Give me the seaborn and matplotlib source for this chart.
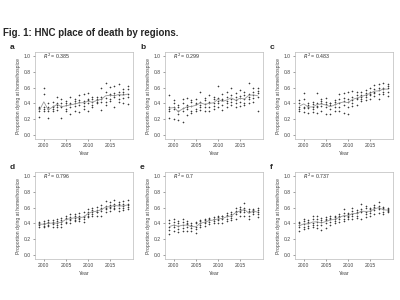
import numpy as np
import pandas as pd
import matplotlib
matplotlib.use("Agg")
import matplotlib.pyplot as plt
import seaborn as sns

sns.set_theme(style="ticks")
plt.rcParams['font.family'] = ['Liberation Sans', 'DejaVu Sans']

years = list(range(1999, 2020))
panel_labels = ['a', 'b', 'c', 'd', 'e', 'f']
r2_values = ['0.385', '0.299', '0.483', '0.796', '0.7', '0.737']

# proportion dying at home/hospice, one list of regions per year
panel_a = [
    [0.23, 0.31, 0.34, 0.36, 0.33], [0.60, 0.52, 0.35, 0.30, 0.33], [0.21, 0.30, 0.36, 0.40, 0.33],
    [0.42, 0.35, 0.30, 0.37, 0.33], [0.48, 0.40, 0.36, 0.32, 0.38], [0.22, 0.36, 0.40, 0.45, 0.37],
    [0.43, 0.38, 0.33, 0.30, 0.40], [0.48, 0.27, 0.41, 0.36, 0.39], [0.46, 0.40, 0.30, 0.37, 0.43],
    [0.50, 0.29, 0.42, 0.38, 0.44], [0.52, 0.37, 0.33, 0.43, 0.40], [0.53, 0.30, 0.46, 0.40, 0.44],
    [0.45, 0.38, 0.42, 0.48, 0.35], [0.44, 0.48, 0.40, 0.45, 0.42], [0.59, 0.32, 0.45, 0.48, 0.42],
    [0.66, 0.55, 0.42, 0.38, 0.47], [0.61, 0.50, 0.43, 0.46, 0.52], [0.62, 0.35, 0.53, 0.48, 0.50],
    [0.65, 0.45, 0.55, 0.50, 0.42], [0.58, 0.52, 0.47, 0.40, 0.55], [0.62, 0.58, 0.48, 0.39, 0.52],
]
panel_b = [
    [0.50, 0.22, 0.35, 0.33, 0.30], [0.41, 0.44, 0.36, 0.20, 0.33], [0.19, 0.30, 0.38, 0.27, 0.35],
    [0.16, 0.34, 0.40, 0.45, 0.30], [0.47, 0.38, 0.25, 0.33, 0.36], [0.42, 0.30, 0.37, 0.44, 0.28],
    [0.39, 0.45, 0.33, 0.30, 0.41], [0.55, 0.38, 0.32, 0.42, 0.36], [0.47, 0.30, 0.39, 0.44, 0.35],
    [0.51, 0.42, 0.36, 0.31, 0.40], [0.48, 0.37, 0.45, 0.33, 0.41], [0.62, 0.40, 0.35, 0.47, 0.43],
    [0.52, 0.44, 0.38, 0.32, 0.46], [0.48, 0.40, 0.55, 0.36, 0.43], [0.60, 0.45, 0.38, 0.50, 0.42],
    [0.53, 0.44, 0.35, 0.48, 0.40], [0.57, 0.49, 0.42, 0.37, 0.47], [0.55, 0.45, 0.40, 0.50, 0.38],
    [0.66, 0.52, 0.45, 0.40, 0.48], [0.60, 0.55, 0.47, 0.42, 0.50], [0.60, 0.31, 0.53, 0.48, 0.56],
]
panel_c = [
    [0.44, 0.35, 0.31, 0.40, 0.33], [0.53, 0.29, 0.36, 0.45, 0.34], [0.41, 0.34, 0.28, 0.38, 0.36],
    [0.39, 0.29, 0.42, 0.35, 0.33], [0.53, 0.35, 0.28, 0.40, 0.37], [0.46, 0.37, 0.30, 0.43, 0.40],
    [0.47, 0.39, 0.27, 0.42, 0.35], [0.41, 0.33, 0.27, 0.38, 0.40], [0.44, 0.36, 0.30, 0.42, 0.39],
    [0.52, 0.40, 0.30, 0.45, 0.36], [0.53, 0.43, 0.28, 0.38, 0.47], [0.55, 0.45, 0.36, 0.27, 0.42],
    [0.56, 0.48, 0.40, 0.44, 0.37], [0.54, 0.45, 0.50, 0.38, 0.47], [0.55, 0.48, 0.43, 0.51, 0.46],
    [0.57, 0.51, 0.44, 0.48, 0.53], [0.60, 0.52, 0.46, 0.55, 0.50], [0.63, 0.55, 0.49, 0.58, 0.53],
    [0.65, 0.57, 0.52, 0.60, 0.45], [0.66, 0.60, 0.55, 0.52, 0.58], [0.65, 0.62, 0.55, 0.49, 0.59],
]
panel_d = [
    [0.36, 0.38, 0.40, 0.42, 0.39], [0.35, 0.39, 0.41, 0.37, 0.43], [0.37, 0.40, 0.44, 0.38, 0.42],
    [0.36, 0.41, 0.44, 0.39, 0.42], [0.38, 0.43, 0.46, 0.40, 0.35], [0.39, 0.42, 0.47, 0.44, 0.36],
    [0.42, 0.45, 0.50, 0.47, 0.41], [0.44, 0.48, 0.52, 0.46, 0.40], [0.43, 0.47, 0.50, 0.44, 0.52],
    [0.45, 0.49, 0.53, 0.47, 0.43], [0.46, 0.50, 0.54, 0.48, 0.42], [0.50, 0.54, 0.58, 0.52, 0.48],
    [0.52, 0.55, 0.60, 0.57, 0.50], [0.54, 0.57, 0.61, 0.55, 0.50], [0.56, 0.60, 0.63, 0.58, 0.50],
    [0.58, 0.62, 0.68, 0.60, 0.55], [0.59, 0.63, 0.67, 0.61, 0.56], [0.60, 0.64, 0.70, 0.62, 0.58],
    [0.59, 0.63, 0.67, 0.65, 0.56], [0.60, 0.64, 0.68, 0.62, 0.57], [0.61, 0.65, 0.70, 0.63, 0.58],
]
panel_e = [
    [0.36, 0.41, 0.44, 0.32, 0.27], [0.38, 0.42, 0.35, 0.30, 0.45], [0.37, 0.40, 0.33, 0.29, 0.43],
    [0.38, 0.42, 0.34, 0.30, 0.45], [0.39, 0.43, 0.35, 0.31, 0.41], [0.38, 0.41, 0.34, 0.30, 0.37],
    [0.40, 0.42, 0.36, 0.28, 0.33], [0.41, 0.44, 0.38, 0.35, 0.43], [0.42, 0.45, 0.40, 0.37, 0.44],
    [0.44, 0.47, 0.42, 0.39, 0.45], [0.45, 0.48, 0.43, 0.40, 0.46], [0.46, 0.49, 0.44, 0.41, 0.48],
    [0.47, 0.50, 0.45, 0.41, 0.49], [0.49, 0.53, 0.46, 0.43, 0.51], [0.50, 0.54, 0.47, 0.44, 0.52],
    [0.52, 0.56, 0.60, 0.45, 0.55], [0.54, 0.58, 0.61, 0.50, 0.56], [0.55, 0.60, 0.66, 0.50, 0.57],
    [0.56, 0.58, 0.50, 0.46, 0.54], [0.56, 0.58, 0.55, 0.52, 0.57], [0.57, 0.59, 0.52, 0.48, 0.55],
]
panel_f = [
    [0.38, 0.42, 0.35, 0.31, 0.40], [0.39, 0.43, 0.36, 0.33, 0.46], [0.40, 0.44, 0.37, 0.34, 0.42],
    [0.41, 0.45, 0.38, 0.35, 0.50], [0.42, 0.46, 0.38, 0.34, 0.50], [0.42, 0.47, 0.38, 0.32, 0.44],
    [0.44, 0.48, 0.40, 0.34, 0.46], [0.45, 0.49, 0.42, 0.38, 0.47], [0.46, 0.50, 0.43, 0.40, 0.48],
    [0.48, 0.52, 0.45, 0.42, 0.50], [0.49, 0.53, 0.46, 0.43, 0.58], [0.50, 0.53, 0.48, 0.45, 0.52],
    [0.52, 0.56, 0.49, 0.46, 0.60], [0.53, 0.57, 0.50, 0.47, 0.55], [0.54, 0.58, 0.64, 0.45, 0.56],
    [0.55, 0.59, 0.52, 0.48, 0.62], [0.56, 0.60, 0.53, 0.50, 0.58], [0.57, 0.61, 0.63, 0.52, 0.59],
    [0.58, 0.62, 0.67, 0.53, 0.60], [0.58, 0.61, 0.55, 0.52, 0.60], [0.57, 0.59, 0.56, 0.54, 0.58],
]
panels = [panel_a, panel_b, panel_c, panel_d, panel_e, panel_f]


def to_frame(panel):
    rows = []
    for year, vals in zip(years, panel):
        for v in vals:
            rows.append({'Year': year, 'prop': v})
    return pd.DataFrame(rows)


fig = plt.figure(figsize=(4, 3), dpi=100)
fig.patch.set_facecolor('white')
fig.text(0.008, 1 - 33 / 300, 'Fig. 1: HNC place of death by regions.',
         fontsize=7, fontweight='bold', va='center', ha='left')

lefts = [35, 165, 295]
tops = [52, 172]
w_px, h_px = 98, 87

for i, panel in enumerate(panels):
    row, col = divmod(i, 3)
    left, top = lefts[col], tops[row]
    ax = fig.add_axes([left / 400, 1 - (top + h_px) / 300, w_px / 400, h_px / 300])
    df = to_frame(panel)
    sns.scatterplot(data=df, x='Year', y='prop', marker='+', s=3, linewidth=0.4,
                    color='#3a3a3a', ax=ax)
    sns.lineplot(data=df, x='Year', y='prop', estimator='mean', errorbar=None,
                 color='#999999', linewidth=0.6, ax=ax)
    ax.set_xlim(1998, 2020.2)
    ax.set_ylim(-0.05, 1.05)
    ax.set_xticks([2000, 2005, 2010, 2015])
    ax.set_yticks([0.0, 0.2, 0.4, 0.6, 0.8, 1.0])
    ax.set_yticklabels(['0.0', '0.2', '0.4', '0.6', '0.8', '1.0'])
    ax.tick_params(axis='both', labelsize=3.6, length=1.5, width=0.4, pad=1.5,
                   colors='#555555', labelcolor='#444444')
    ax.set_xlabel('Year', fontsize=3.8, labelpad=2, color='#444444')
    ax.set_ylabel('Proportion dying at home/hospice', fontsize=3.6, labelpad=2, color='#444444')
    for sp in ax.spines.values():
        sp.set_linewidth(0.4)
        sp.set_color('#aaaaaa')
    ax.text(0.08, 0.955, r'$R^2$ = ' + r2_values[i], transform=ax.transAxes,
            fontsize=3.8, va='center', ha='left', color='#333333')
    fig.text((left - 25) / 400, 1 - (top - 1) / 300, panel_labels[i],
             fontsize=6, fontweight='bold', va='bottom', ha='left')

fig.savefig('out.png', dpi=100)
